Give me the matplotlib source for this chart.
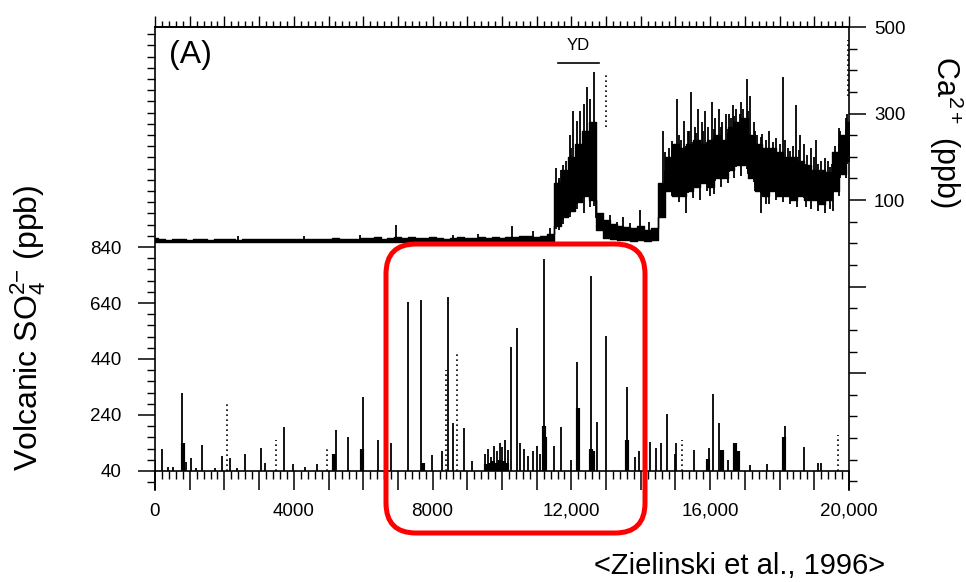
import matplotlib
matplotlib.use("Agg")
import matplotlib.pyplot as plt
import numpy as np
from matplotlib.patches import FancyBboxPatch
from matplotlib.ticker import MultipleLocator, FixedLocator, FuncFormatter, NullFormatter

plt.rcParams['font.family'] = ['Liberation Sans', 'DejaVu Sans']
plt.rcParams['mathtext.fontset'] = 'custom'
plt.rcParams['mathtext.rm'] = 'Liberation Sans'
plt.rcParams['mathtext.it'] = 'Liberation Sans:italic'

# ---- Ca2+ record (200-yr core band, ppb) ----
ca_years = list(range(0, 20001, 200))
ca_lo = [2, 3, 2, 2, 3, 2, 2, 3, 2, 2, 3, 2, 2, 2, 3, 2, 2, 3, 2, 2, 3, 2, 2, 3, 2, 2, 3, 3, 2, 3, 3,
         3, 3, 4, 3, 3, 4, 3, 3, 4, 3, 4, 3, 3, 4, 4, 3, 4, 4, 3, 4, 5, 4, 5, 5, 4, 5, 6,
         40, 60, 75, 95, 110, 100,
         30, 12, 10, 8, 8, 6, 8, 5, 8,
         60, 120, 110, 110, 120, 130, 140, 130, 150, 150, 170, 180, 180, 150, 120, 110, 120, 110,
         110, 100, 110, 100, 100, 90, 100, 120, 160, 190]
ca_hi = [12, 9, 8, 10, 9, 8, 9, 10, 8, 9, 10, 9, 8, 10, 9, 10, 11, 9, 10, 9, 10, 9, 11, 10, 9, 10, 12, 10, 11, 10, 12,
         12, 14, 11, 13, 15, 12, 14, 13, 12, 14, 13, 11, 12, 14, 13, 12, 15, 13, 14, 12, 15, 14, 16, 18, 15, 17, 22,
         140, 170, 200, 230, 260, 280,
         70, 55, 45, 40, 38, 35, 40, 30, 35,
         140, 200, 230, 220, 230, 240, 230, 240, 250, 240, 270, 280, 290, 250, 230, 220, 220, 210,
         200, 200, 190, 180, 170, 170, 165, 210, 250, 280]

# individual Ca2+ spikes (upward)
ca_spike_years = [2400, 4300, 5900, 6940, 8600, 9300, 10280, 10900, 11380, 11560,
                  11650, 11700, 11750, 11850, 11950, 12000, 12050, 12150, 12250, 12350, 12450,
                  12550, 12640, 12720,
                  13100, 13300, 13500, 13700, 13970, 14250,
                  14650, 14700, 14800, 14900, 15050, 15100, 15150, 15250, 15350, 15400, 15450,
                  15550, 15600, 15650, 15750, 15800, 15850, 15950, 16050, 16100, 16150, 16250,
                  16300, 16350, 16450, 16500, 16550, 16600, 16650, 16700, 16750, 16850, 16900,
                  16950, 17050, 17100, 17150, 17250, 17300, 17350, 17450, 17500, 17600, 17700,
                  17800, 17900, 18000, 18090, 18150, 18250, 18300, 18400, 18480, 18550, 18600,
                  18700, 18800, 18900, 19000, 19050, 19100, 19200, 19300, 19400, 19500, 19600,
                  19700, 19750, 19800, 19900, 19950]
ca_spike_vals = [16, 18, 20, 43, 20, 22, 39, 28, 36, 175,
                 150, 170, 180, 190, 250, 220, 305, 282, 305, 323, 361,
                 334, 395, 236,
                 65, 50, 60, 48, 77, 50,
                 260, 210, 220, 236, 334, 250, 240, 282, 260, 260, 350,
                 270, 255, 311, 280, 260, 305, 270, 327, 265, 290, 311,
                 270, 280, 298, 265, 300, 290, 320, 295, 310, 300, 327,
                 310, 380, 305, 340, 280, 259, 250, 245, 252, 240, 259,
                 235, 243, 230, 384, 240, 220, 214, 225, 320, 215, 250,
                 230, 205, 220, 200, 240, 184, 190, 198, 190, 184, 225,
                 266, 260, 250, 289, 300]
# downward dips out of the band
ca_dip_years = [11650, 11750, 11950, 12150, 12350, 12550,
                14700, 14900, 15100, 15300, 15500, 15700, 15900, 16000, 16100, 16300, 16500,
                16700, 16900, 17100, 17300, 17450, 17600, 17700, 17900, 18100, 18300, 18500,
                18750, 18900, 19100, 19300, 19450, 19550, 19700, 19900]
ca_dip_vals = [30, 45, 60, 80, 70, 85,
               93, 110, 95, 70, 105, 100, 120, 110, 115, 130, 140,
               150, 155, 160, 120, 70, 90, 90, 100, 95, 90, 85,
               85, 80, 75, 70, 80, 75, 110, 150]
ca_dotted_years = [13000, 19980]
ca_dotted_lo = [270, 340]
ca_dotted_hi = [395, 470]

# ---- Volcanic SO4 record (ppb) ----
so4_years = [0, 190, 375, 520, 770, 890, 1030, 1180, 1350, 1730, 1930, 2160, 2360, 2590,
             3050, 3170, 3720, 3980, 4320, 4670, 5220, 5550, 5980, 6430,
             6800, 7280, 7670, 7970, 8260, 8430, 8590, 8900, 9140,
             9520, 9600, 9680, 9760, 9850, 9930, 10010, 10100, 10180, 10260, 10420, 10520,
             10640, 10760, 10880, 11000, 11100, 11210, 11500, 11690, 11990, 12150, 12570,
             12740, 13000, 13590, 13830, 13950,
             14120, 14260, 14440, 14580, 14750, 14990, 15020, 15530, 15970, 16090, 16240,
             16500, 16840, 17150, 17630, 18110, 18160, 18700, 19120, 19200]
so4_vals = [79, 119, 54, 54, 320, 72, 86, 50, 133, 50, 94, 86, 50, 101,
            122, 69, 197, 65, 54, 65, 186, 162, 305, 151,
            141, 645, 651, 97, 111, 662, 211, 193, 75,
            100, 120, 90, 130, 110, 140, 125, 150, 115, 484, 550, 140,
            120, 95, 110, 130, 100, 796, 130, 198, 80, 430, 736,
            215, 522, 341, 90, 110,
            100, 145, 122, 141, 244, 100, 140, 115, 122, 314, 212,
            80, 100, 62, 66, 136, 202, 127, 70, 70]
so4_thick_years = [800, 5160, 5960, 7720, 9550, 9650, 9750, 9850, 9950, 10050, 10150,
                   11200, 11250, 12190, 12570, 12620, 13600, 15930, 16330, 16720, 16800, 18130]
so4_thick_vals = [141, 101, 119, 70, 65, 70, 75, 70, 80, 75, 70,
                  200, 160, 265, 120, 110, 150, 81, 115, 140, 110, 160]
so4_dotted_years = [2070, 3480, 4970, 8380, 8690, 15190, 19670]
so4_dotted_vals = [290, 151, 120, 400, 470, 150, 169]

yd_start, yd_end = 11600, 12800
so4_labels = [40, 240, 440, 640, 840]
ca_labels = [100, 300, 500]

fig = plt.figure(figsize=(9.66, 5.82), dpi=100)
ax = fig.add_axes([155 / 966, 1 - 490 / 582, 694 / 966, 463 / 582])
ax.set_xlim(0, 20000)
ax.set_ylim(-28, 1626)
ax2 = ax.twinx()
ax2.set_ylim(-570, 500)

# SO4 spikes
ax.vlines(so4_years, 40, so4_vals, color='k', lw=1.3)
ax.vlines(so4_thick_years, 40, so4_thick_vals, color='k', lw=3.0)
ax.vlines(so4_dotted_years, 40, so4_dotted_vals, color='k', lw=1.2, linestyles=(0, (1, 2)))

# Ca record: core band + spikes rising out of it
ax2.fill_between(ca_years, ca_lo, ca_hi, step='mid', color='k', lw=1.0)
spike_base = np.interp(ca_spike_years, ca_years, ca_lo)
ax2.vlines(ca_spike_years, spike_base, ca_spike_vals, color='k', lw=1.3)
dip_top = np.interp(ca_dip_years, ca_years, ca_hi)
ax2.vlines(ca_dip_years, ca_dip_vals, dip_top, color='k', lw=1.3)
ax2.vlines(ca_dotted_years, ca_dotted_lo, ca_dotted_hi, color='k', lw=1.2, linestyles=(0, (1, 2)))

# YD marker
ax2.plot([yd_start, yd_end], [417, 417], color='k', lw=1.2)
ax2.text((yd_start + yd_end) / 2, 440, 'YD', ha='center', va='bottom', fontsize=12)
ax.text(0.02, 0.94, '(A)', transform=ax.transAxes, ha='left', va='center', fontsize=23)

# spines
for sp in ax.spines.values():
    sp.set_linewidth(1.2)
ax.spines['bottom'].set_position(('data', 40))
ax.spines['right'].set_visible(False)
for name in ['left', 'top', 'bottom']:
    ax2.spines[name].set_visible(False)
ax2.spines['right'].set_linewidth(1.2)

# x ticks
def xfmt(v, pos):
    v = int(round(v))
    if v % 4000:
        return ''
    return f'{v:,}' if v >= 10000 else str(v)

ax.xaxis.set_major_locator(MultipleLocator(1000))
ax.xaxis.set_minor_locator(MultipleLocator(200))
ax.xaxis.set_major_formatter(FuncFormatter(xfmt))
ax.tick_params(axis='x', which='major', direction='out', length=14, width=1.1, pad=9, labelsize=13.5)
ax.tick_params(axis='x', which='minor', direction='out', length=6, width=1.0)

top = ax.secondary_xaxis('top')
top.xaxis.set_major_locator(MultipleLocator(1000))
top.xaxis.set_minor_locator(MultipleLocator(200))
top.xaxis.set_major_formatter(NullFormatter())
top.tick_params(which='major', direction='out', length=8, width=1.0)
top.tick_params(which='minor', direction='out', length=4, width=1.0)
top.spines['top'].set_linewidth(1.2)

# left (SO4) ticks
ax.yaxis.set_major_locator(FixedLocator(so4_labels))
ax.yaxis.set_minor_locator(MultipleLocator(40))
ax.tick_params(axis='y', which='major', direction='out', length=12, width=1.1, pad=12, labelsize=13.5)
ax.tick_params(axis='y', which='minor', direction='out', length=6, width=1.0)

# right (Ca) ticks
ax2.yaxis.set_major_locator(FixedLocator([-300, -100] + ca_labels))
ax2.yaxis.set_minor_locator(MultipleLocator(50))
ax2.yaxis.set_major_formatter(FuncFormatter(lambda v, p: str(int(v)) if v > 0 else ''))
ax2.tick_params(axis='y', which='major', direction='out', length=12, width=1.1, pad=6, labelsize=13.5)
ax2.tick_params(axis='y', which='minor', direction='out', length=6, width=1.0)

# axis titles
fig.text(28 / 966, 1 - 328 / 582, 'Volcanic SO$_4^{2\\mathrm{-}}$ (ppb)', rotation=90,
         ha='center', va='center', fontsize=23)
fig.text(946 / 966, 1 - 132 / 582, 'Ca$^{2+}$ (ppb)', rotation=-90,
         ha='center', va='center', fontsize=22)
fig.text(885 / 966, 1 - 566 / 582, '<Zielinski et al., 1996>', ha='right', va='center', fontsize=21)

# red highlight box
box = FancyBboxPatch((386 / 966, 1 - 533 / 582), (645 - 386) / 966, (533 - 244) / 582,
                     boxstyle='round,pad=0,rounding_size=0.031', mutation_aspect=966 / 582,
                     transform=fig.transFigure, fill=False, ec='#ff0000', lw=3.6)
fig.patches.append(box)

fig.savefig('out.png', dpi=100)
